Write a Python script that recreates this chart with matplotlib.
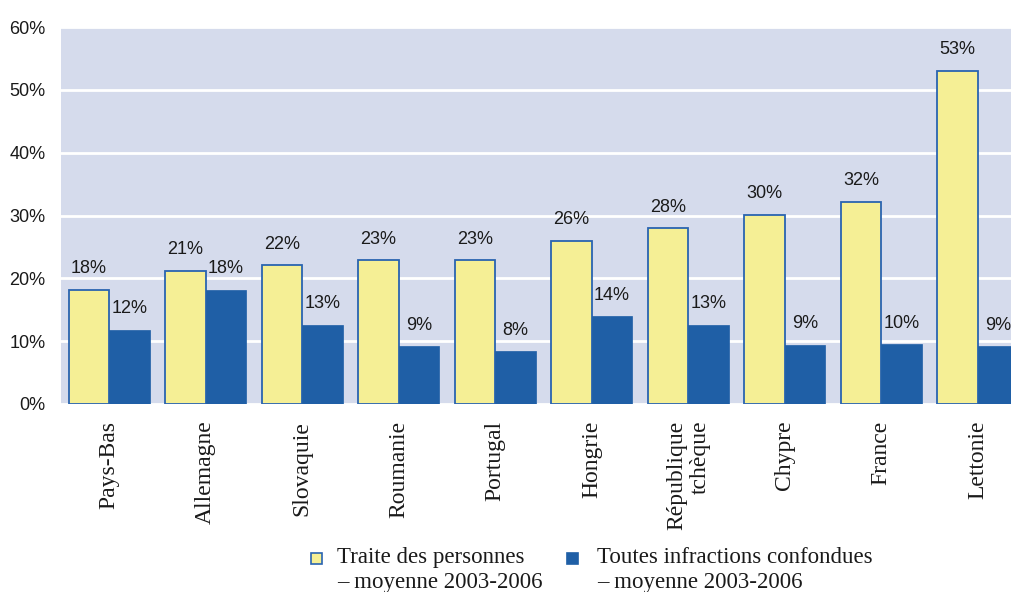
import matplotlib.pyplot as plt
from matplotlib.patches import Rectangle
import numpy as np

# Data
countries = ["Pays-Bas", "Allemagne", "Slovaquie", "Roumanie", "Portugal",
             "Hongrie", "République\ntchèque", "Chypre", "France", "Lettonie"]
traite = [18.2, 21.2, 22.1, 22.9, 22.9, 26.0, 28.0, 30.1, 32.2, 53.0]
traite_labels = ["18%", "21%", "22%", "23%", "23%", "26%", "28%", "30%", "32%", "53%"]
toutes = [11.8, 18.2, 12.6, 9.2, 8.4, 14.0, 12.6, 9.4, 9.5, 9.2]
toutes_labels = ["12%", "18%", "13%", "9%", "8%", "14%", "13%", "9%", "10%", "9%"]
yticks = [0, 10, 20, 30, 40, 50, 60]

YELLOW = "#F5EF95"
BLUE = "#1F5FA6"
EDGE = "#2A64B0"
BG = "#D5DBEC"
TXT = "#1a1a1a"
sans = "Liberation Sans"
serif = "Liberation Serif"

fig = plt.figure(figsize=(10.12, 5.92), dpi=100)
ax = fig.add_axes([61 / 1012, 188 / 592, 965 / 1012, 377 / 592])
ax.set_facecolor(BG)

x = np.arange(len(countries))
w = 0.42
b1 = ax.bar(x - w / 2, traite, w, color=YELLOW, edgecolor=EDGE, linewidth=1.3, zorder=3)
b2 = ax.bar(x + w / 2, toutes, w, color=BLUE, edgecolor=BLUE, linewidth=0.5, zorder=3)
ax.bar_label(b1, labels=traite_labels, padding=9, fontsize=13, family=sans, color=TXT)
ax.bar_label(b2, labels=toutes_labels, padding=9, fontsize=13, family=sans, color=TXT)

ax.set_xlim(-0.5, len(countries) - 0.5)
ax.set_ylim(0, 60)
ax.set_yticks(yticks)
ax.set_yticklabels([f"{t}%" for t in yticks], family=sans, fontsize=13, color=TXT)
ax.yaxis.grid(True, color="white", linewidth=2, zorder=0)
ax.set_axisbelow(True)
ax.tick_params(axis="y", length=0, pad=11)
ax.tick_params(axis="x", length=0, pad=12)
ax.set_xticks(x)
ax.set_xticklabels(countries, rotation=90, family=serif, fontsize=17, color=TXT,
                   va="top", ha="center", linespacing=1.15, multialignment="right")
for s in ax.spines.values():
    s.set_visible(False)

# legend drawn by hand so the squares sit on the first line
legend_items = [(YELLOW, EDGE, 311, 337, "Traite des personnes\n– moyenne 2003-2006"),
                (BLUE, BLUE, 567, 597, "Toutes infractions confondues\n– moyenne 2003-2006")]
for fc, ec, sx, tx, label in legend_items:
    fig.patches.append(Rectangle((sx / 1012, 1 - 564 / 592), 11 / 1012, 11 / 592,
                                 transform=fig.transFigure, facecolor=fc,
                                 edgecolor=ec, linewidth=1.2))
    fig.text(tx / 1012, 1 - 547 / 592, label, family=serif, fontsize=16.5, color=TXT,
             ha="left", va="top", linespacing=1.25)

fig.savefig("out.png", dpi=100)
